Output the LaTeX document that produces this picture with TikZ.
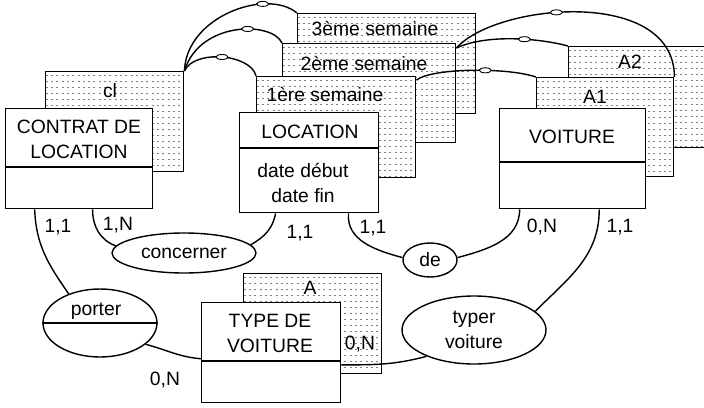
\documentclass[tikz,border=0pt]{standalone}
\usepackage{fontspec}
\setmainfont{Liberation Sans}
\usetikzlibrary{calc,shapes.geometric}
\begin{document}
\begin{tikzpicture}[x=1pt,y=-1pt,line width=1.4pt,
  ent/.style={draw,fill=white,anchor=north west,inner sep=0pt},
  ombre/.style={ent,path picture={\foreach \k in {1,...,17}
    \draw[black!50,line width=.8pt,dash pattern=on 2pt off 3.3pt]
    ([yshift=-\k*6pt+2pt]path picture bounding box.north west)--([yshift=-\k*6pt+2pt]path picture bounding box.north east);}},
  asso/.style={draw,fill=white,ellipse,inner sep=0pt,txt},
  lien/.style={draw,fill=white,ellipse,inner sep=0pt,minimum width=12pt,minimum height=5pt,line width=.9pt},
  txt/.style={font=\fontsize{19.3}{25}\selectfont,align=center,inner sep=0pt}]
\useasboundingbox (0,0) rectangle (704,407);
\node[ombre,minimum width=138,minimum height=100] (cl) at (45,71) {};
\node[txt] (clT) at (110,91) {cl};
\node[ent,minimum width=147,minimum height=100] (contrat) at (5,108) {};
\draw (contrat.west|-0,167)--(contrat.east|-0,167);
\node[txt] (contratT) at (79,139) {CONTRAT DE\\LOCATION};
\node[ombre,minimum width=178,minimum height=100] (sem3) at (297,13) {};
\node[txt] (sem3T) at (375,28) {3ème semaine};
\node[ombre,minimum width=173,minimum height=99] (sem2) at (282,43) {};
\node[txt] (sem2T) at (364,63) {2ème semaine};
\node[ombre,minimum width=159,minimum height=101] (sem1) at (256,76) {};
\node[txt] (sem1T) at (325,94) {1ère semaine};
\node[ent,minimum width=139,minimum height=100] (location) at (239,112) {};
\draw (location.west|-0,148)--(location.east|-0,148);
\node[txt] (locationT) at (310,132) {LOCATION};
\node[txt] (locationA) at (303,183) {date début\\date fin};
\node[ombre,minimum width=150,minimum height=101] (a2) at (568,46) {};
\node[txt] (a2T) at (630,62) {A2};
\node[ombre,minimum width=137,minimum height=99] (a1) at (536,77) {};
\node[txt] (a1T) at (595,97) {A1};
\node[ent,minimum width=146,minimum height=100] (voiture) at (499,108) {};
\draw (voiture.west|-0,162)--(voiture.east|-0,162);
\node[txt] (voitureT) at (572,137) {VOITURE};
\node[ombre,minimum width=138,minimum height=100] (a) at (243,273) {};
\node[txt] (aT) at (310,288) {A};
\node[ent,minimum width=139,minimum height=100] (type) at (201,302) {};
\draw (type.west|-0,361)--(type.east|-0,361);
\node[txt] (typeT) at (270,333) {TYPE DE\\VOITURE};
\node[asso,minimum width=144,minimum height=40] (concerner) at (184,253) {concerner};
\node[asso,minimum width=114,minimum height=68] (porter) at (100,323) {};
\draw (porter.west)--(porter.east);
\node[txt] (porterT) at (96,311) {porter};
\node[asso,minimum width=54,minimum height=34] (de) at (430,260) {de};
\node[asso,minimum width=144,minimum height=68] (typer) at (474,330) {typer\\voiture};
\draw (cl.north east) .. controls +(10,-22) and +(-5,-22) .. node[lien,pos=.5] (l1) {} (sem1.north west);
\draw (cl.north east) .. controls +(15,-50) and +(-10,-22) .. node[lien,pos=.6] (l2) {} (sem2.north west);
\draw (cl.north east) .. controls +(2,-55) and +(-30,-25) .. node[lien,pos=.72] (l3) {} (sem3.north west);
\draw ($(sem1.north east)!.04!(sem1.south east)$) .. controls +(15,-12) and +(-30,-10) .. node[lien,pos=.6] (l4) {} (a1.north west);
\draw ($(sem2.north east)!.05!(sem2.south east)$) .. controls +(30,-14) and +(-30,-8) .. node[lien,pos=.6] (l5) {} (a2.north west);
\draw ($(sem2.north east)!.05!(sem2.south east)$) .. controls +(40,-45) and +(0,-90) .. node[lien,pos=.42] (l6) {} (a1.north east);
\draw ($(contrat.south west)!.2!(contrat.south east)$) to[out=-88,in=125] (porter.137);
\draw ($(contrat.south west)!.59!(contrat.south east)$) to[out=-90,in=160] (concerner.174);
\draw ($(location.south west)!.26!(location.south east)$) to[out=-100,in=30] (concerner.7);
\draw ($(location.south west)!.78!(location.south east)$) to[out=-95,in=165] (de.175);
\draw ($(voiture.south west)!.14!(voiture.south east)$) to[out=-90,in=15] (de.5);
\draw ($(voiture.south west)!.68!(voiture.south east)$) to[out=-90,in=45] (typer.17);
\draw (typer.209) to[out=195,in=0] ($(type.north east)!.62!(type.south east)$);
\draw (porter.-25) to[out=-15,in=175] ($(type.north west)!.56!(type.south west)$);
\node[txt] (c1) at (58,227) {1,1};
\node[txt] (c2) at (118,225) {1,N};
\node[txt] (c3) at (300,233) {1,1};
\node[txt] (c4) at (373,228) {1,1};
\node[txt] (c5) at (542,227) {0,N};
\node[txt] (c6) at (620,227) {1,1};
\node[txt] (c7) at (360,344) {0,N};
\node[txt] (c8) at (165,380) {0,N};
\end{tikzpicture}
\end{document}
